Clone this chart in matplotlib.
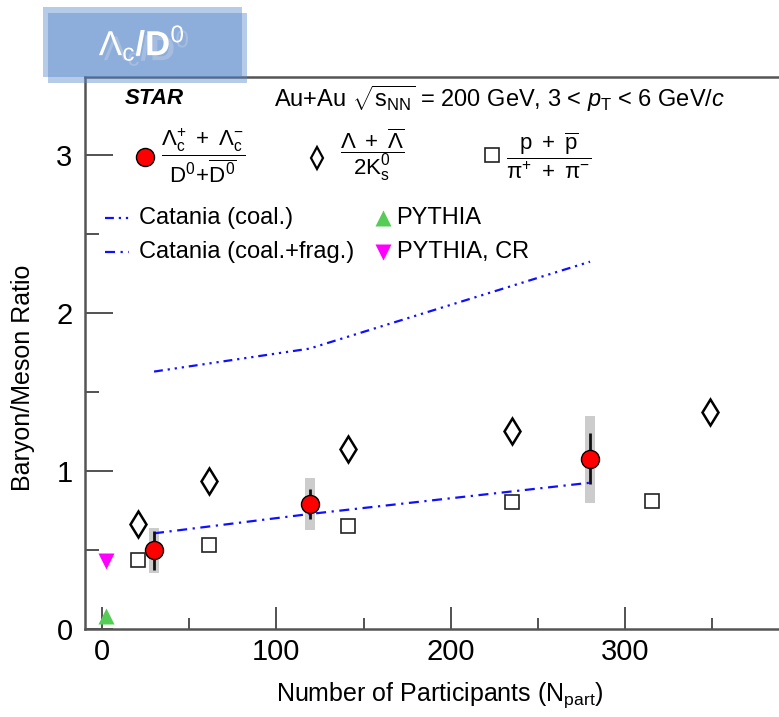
#!/usr/bin/env python3

# Baryon/meson ratio vs Npart (STAR Au+Au 200 GeV, 3 < pT < 6 GeV/c)

import numpy as np
import matplotlib.pyplot as plt
import matplotlib.patheffects as pe
from matplotlib.patches import Rectangle

plt.rcParams['font.family'] = ['Liberation Sans', 'DejaVu Sans']
plt.rcParams['mathtext.fontset'] = 'custom'
plt.rcParams['mathtext.rm'] = 'Liberation Sans'
plt.rcParams['mathtext.it'] = 'Liberation Sans:italic'
plt.rcParams['mathtext.bf'] = 'Liberation Sans:bold'

# Lambda_c / D0 (STAR)
lc_npart = [29.8, 119.3, 279.9]
lc_ratio = [0.50, 0.79, 1.08]
lc_stat_lo = [0.125, 0.09, 0.16]
lc_stat_hi = [0.12, 0.10, 0.163]
lc_sys_lo = [0.143, 0.16, 0.28]
lc_sys_hi = [0.143, 0.17, 0.27]

# Lambda / 2K0s
lam_npart = [20.8, 61.3, 140.9, 235.2, 348.8]
lam_ratio = [0.666, 0.938, 1.140, 1.254, 1.375]

# p / pi
p_npart = [20.8, 61.3, 140.9, 235.2, 315.7]
p_ratio = [0.436, 0.533, 0.655, 0.803, 0.81]

# PYTHIA (p+p)
pyth_npart = [2.0]
pyth_ratio = [0.084]
pyth_cr_ratio = [0.43]

# Catania model curves
cat_npart = [29.8, 118.9, 279.9]
cat_coal = [1.63, 1.775, 2.325]
cat_frag = [0.607, 0.729, 0.927]

BLUE = '#1010ff'
DASHDOTDOT = (0, (4, 2.2, 1, 2.2, 1, 2.2, 1, 2.2))
DASHDOT = (0, (4.5, 2.5, 1, 2.5))

fig = plt.figure(figsize=(7.79, 7.17), dpi=100)
ax = fig.add_axes([85/779, 1 - 629.3/717, 1 - 85/779, (629.3 - 76.7)/717])

# systematic boxes
lo = np.array(lc_ratio) - np.array(lc_sys_lo)
hi = np.array(lc_ratio) + np.array(lc_sys_hi)
ax.bar(lc_npart, hi - lo, bottom=lo, width=5.8, color='#cccccc', zorder=1)

ax.plot(cat_npart, cat_coal, color=BLUE, lw=1.6, ls=DASHDOTDOT, zorder=2)
ax.plot(cat_npart, cat_frag, color=BLUE, lw=1.6, ls=DASHDOT, zorder=2)

ax.errorbar(lc_npart, lc_ratio, yerr=[lc_stat_lo, lc_stat_hi], fmt='none',
            ecolor='#111111', elinewidth=2.0, capsize=0, zorder=3)
ax.plot(lc_npart, lc_ratio, 'o', ms=13, mfc='#ff0000', mec='black', mew=1.0,
        zorder=4)
ax.plot(lam_npart, lam_ratio, 'd', ms=13, mfc='none', mec='black', mew=1.8,
        zorder=4)
ax.plot(p_npart, p_ratio, 's', ms=9.5, mfc='none', mec='#222222', mew=1.2,
        zorder=4)
ax.plot(pyth_npart, pyth_ratio, '^', ms=11, color='#55cc55', mec='none',
        zorder=4)
ax.plot(pyth_npart, pyth_cr_ratio, 'v', ms=11, color='#ff00ff', mec='none',
        zorder=4)

ax.set_xlim(-9.8, 388.3)
ax.set_ylim(0, 3.495)
ax.set_xticks([0, 100, 200, 300])
ax.set_xticks([50, 150, 250, 350], minor=True)
ax.set_yticks([0, 1, 2, 3])
ax.set_yticks([0.5, 1.5, 2.5], minor=True)
ax.tick_params(axis='both', which='both', direction='in', colors='#444444',
               labelcolor='black', labelsize=21, width=1.3)
ax.tick_params(axis='x', which='major', length=16, pad=6)
ax.tick_params(axis='x', which='minor', length=8)
ax.tick_params(axis='y', which='major', length=20, pad=9)
ax.tick_params(axis='y', which='minor', length=10)
ax.spines['right'].set_visible(False)
for s in ['left', 'bottom', 'top']:
    ax.spines[s].set_color('#555555')
    ax.spines[s].set_linewidth(1.8)

ax.set_xlabel(r'Number of Participants (N$_{\rm part}$)', fontsize=18)
ax.set_ylabel('Baryon/Meson Ratio', fontsize=18)
ax.xaxis.set_label_coords(0.5115, -0.093)
ax.yaxis.set_label_coords(-0.072, 0.455)

# header
ax.text(0.0576, 0.961, 'STAR', transform=ax.transAxes, fontsize=16,
        fontweight='bold', fontstyle='italic', va='center')
ax.text(0.2729, 0.961,
        r'Au+Au $\sqrt{\rm s_{NN}}$ = 200 GeV, 3 < $p_{\rm T}$ < 6 GeV/$c$',
        transform=ax.transAxes, fontsize=17, va='center')

# legend, row 1
ax.plot([0.0865], [0.855], 'o', ms=13, mfc='#ff0000', mec='black', mew=1.0,
        transform=ax.transAxes, clip_on=False)
ax.text(0.1707, 0.858,
        r'$\dfrac{\Lambda_{\rm c}^{+}\ +\ \Lambda_{\rm c}^{-}}{\rm D^{0}\!+\!\overline{D^{0}}}$',
        transform=ax.transAxes, fontsize=16, ha='center', va='center')
ax.plot([0.3337], [0.852], 'd', ms=11, mfc='none', mec='black', mew=1.6,
        transform=ax.transAxes, clip_on=False)
ax.text(0.414, 0.858,
        r'$\dfrac{\Lambda\ +\ \overline{\Lambda}}{\rm 2K_{s}^{0}}$',
        transform=ax.transAxes, fontsize=16, ha='center', va='center')
ax.plot([0.5865], [0.858], 's', ms=9.5, mfc='none', mec='#222222', mew=1.2,
        transform=ax.transAxes, clip_on=False)
ax.text(0.668, 0.858,
        r'$\dfrac{\rm p\ +\ \overline{p}}{\pi^{+}\ +\ \pi^{-}}$',
        transform=ax.transAxes, fontsize=16, ha='center', va='center')

# legend, rows 2-3
ax.plot([0.0288, 0.0639], [0.7437, 0.7437], color=BLUE, lw=1.6,
        ls=DASHDOTDOT, transform=ax.transAxes)
ax.text(0.0774, 0.7437, 'Catania (coal.)', transform=ax.transAxes,
        fontsize=17, va='center')
ax.plot([0.0288, 0.0639], [0.6833, 0.6833], color=BLUE, lw=1.6,
        ls=DASHDOT, transform=ax.transAxes)
ax.text(0.0774, 0.6833, 'Catania (coal.+frag.)', transform=ax.transAxes,
        fontsize=17, va='center')
ax.plot([0.4298], [0.7437], '^', ms=11, color='#55cc55', mec='none',
        transform=ax.transAxes)
ax.text(0.449, 0.7437, 'PYTHIA', transform=ax.transAxes, fontsize=17,
        va='center')
ax.plot([0.4298], [0.6833], 'v', ms=11, color='#ff00ff', mec='none',
        transform=ax.transAxes)
ax.text(0.449, 0.6833, 'PYTHIA, CR', transform=ax.transAxes, fontsize=17,
        va='center')

# title box in the corner
for dx, dy in [(0, 0), (5.6, 6)]:
    fig.patches.append(Rectangle(((42.7 + dx)/779, 1 - (77.3 + dy)/717),
                                 199/779, 70.6/717, transform=fig.transFigure,
                                 facecolor='#5989cb', alpha=0.44,
                                 edgecolor='none', zorder=5))
fig.text(142/779, 1 - 43/717, r'$\Lambda_{\rm c}$/D$^{\rm 0}$',
         fontsize=25, fontweight='bold', color='white', ha='center',
         va='center', zorder=7,
         path_effects=[pe.withSimplePatchShadow(offset=(3.6, -3.6),
                                                shadow_rgbFace='#a5bde0',
                                                alpha=1.0)])

fig.savefig('out.png', dpi=100)
